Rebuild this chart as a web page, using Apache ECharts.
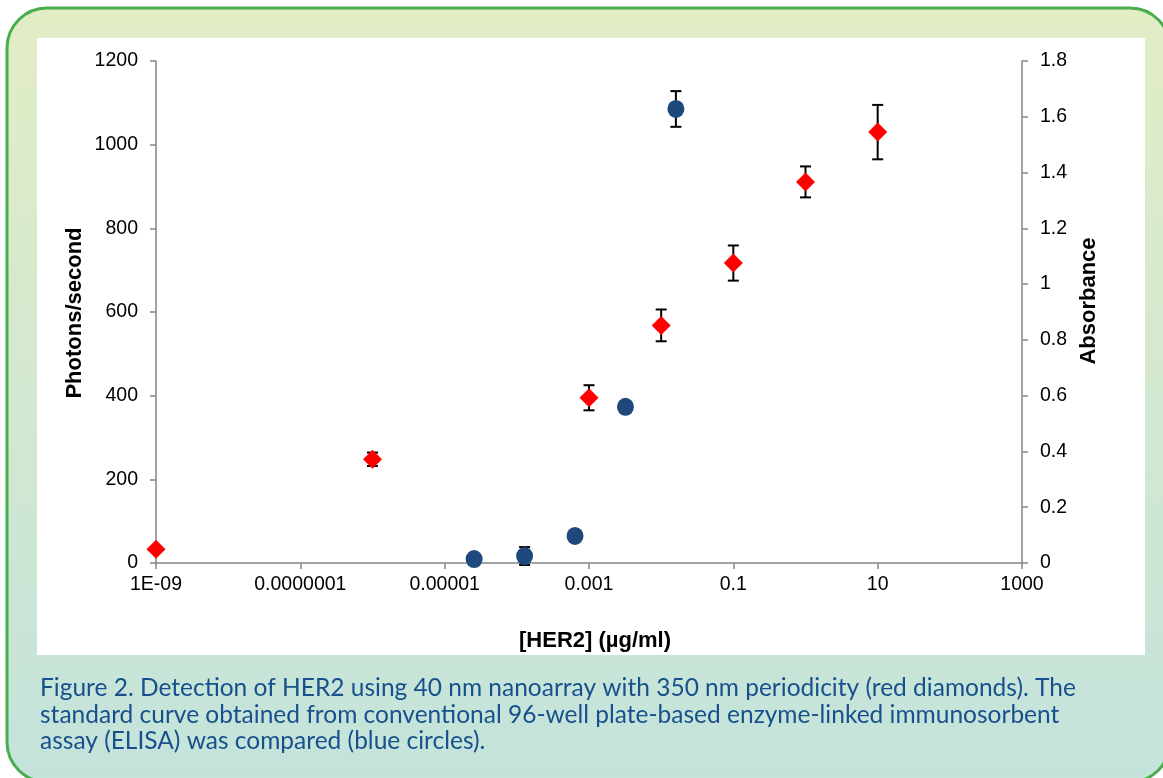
<!DOCTYPE html>
<html>
<head>
<meta charset="utf-8">
<style>
html,body{margin:0;padding:0;background:#fff;}
#chart{width:1163px;height:778px;}
</style>
<script src="https://cdn.jsdelivr.net/npm/echarts@6/dist/echarts.min.js"></script>
</head>
<body>
<div id="chart"></div>
<script>
// ---- data ----
const xTickLabels = ['1E-09', '0.0000001', '0.00001', '0.001', '0.1', '10', '1000'];
// nanoarray (red diamonds), photons/second
const nanoConc = [1e-9, 1e-6, 1e-3, 1e-2, 1e-1, 1, 10];
const nanoPhotons = [33, 248, 395, 568, 717, 911, 1030];
const nanoErr = [0, 16, 30, 38, 42, 37, 65];
// ELISA (blue circles), absorbance
const elisaConc = [2.56e-5, 1.28e-4, 6.4e-4, 3.2e-3, 1.6e-2];
const elisaAbs = [0.014, 0.025, 0.097, 0.56, 1.628];
const elisaErr = [0, 0.032, 0, 0, 0.064];
const captionLines = [
  'Figure 2. Detection of HER2 using 40 nm nanoarray with 350 nm periodicity (red diamonds). The',
  'standard curve obtained from conventional 96-well plate-based enzyme-linked immunosorbent',
  'assay (ELISA) was compared (blue circles).'
];

const lg = v => Math.log10(v);
const nanoPts = nanoConc.map((c, i) => [lg(c), nanoPhotons[i]]);
const nanoBars = nanoConc.map((c, i) => [lg(c), nanoPhotons[i] - nanoErr[i], nanoPhotons[i] + nanoErr[i]]).filter((d, i) => nanoErr[i] > 0);
const elisaPts = elisaConc.map((c, i) => [lg(c), elisaAbs[i]]);
const elisaBars = elisaConc.map((c, i) => [lg(c), elisaAbs[i] - elisaErr[i], elisaAbs[i] + elisaErr[i]]).filter((d, i) => elisaErr[i] > 0);

function errRender(params, api) {
  const x = api.value(0), lo = api.value(1), hi = api.value(2);
  const a = api.coord([x, lo]), b = api.coord([x, hi]);
  const w = 5.5;
  const st = {stroke: '#000', lineWidth: 2};
  return {type: 'group', children: [
    {type: 'line', shape: {x1: a[0], y1: a[1], x2: b[0], y2: b[1]}, style: st},
    {type: 'line', shape: {x1: a[0] - w, y1: a[1], x2: a[0] + w, y2: a[1]}, style: st},
    {type: 'line', shape: {x1: b[0] - w, y1: b[1], x2: b[0] + w, y2: b[1]}, style: st}
  ]};
}

const axisFont = 'Liberation Sans, Arial, sans-serif';
const axisLine = {show: true, onZero: false, lineStyle: {color: '#868686', width: 1.5}};
const axisTick = {show: true, inside: false, length: 6, lineStyle: {color: '#868686', width: 1.5}};
const lblSize = 19.5;

const chart = echarts.init(document.getElementById('chart'), null, {renderer: 'canvas'});
chart.setOption({
  backgroundColor: '#ffffff',
  animation: false,
  graphic: [
    {type: 'rect', z: -10, shape: {x: 7, y: 8, width: 1163, height: 774, r: 40},
     style: {fill: new echarts.graphic.LinearGradient(0, 0, 0, 1, [
       {offset: 0, color: '#e2edc5'}, {offset: 1, color: '#c3e3db'}]),
       stroke: '#48ad4c', lineWidth: 3}},
    {type: 'rect', z: -9, shape: {x: 37, y: 38, width: 1108, height: 617}, style: {fill: '#ffffff'}},
    {type: 'text', x: 595, y: 641, style: {text: '[HER2] (µg/ml)', font: 'bold 22px ' + axisFont, fill: '#000', align: 'center', verticalAlign: 'middle'}},
    {type: 'text', x: 75, y: 313, rotation: Math.PI / 2, style: {text: 'Photons/second', font: 'bold 22px ' + axisFont, fill: '#000', align: 'center', verticalAlign: 'middle'}},
    {type: 'text', x: 1089, y: 301, rotation: Math.PI / 2, style: {text: 'Absorbance', font: 'bold 22px ' + axisFont, fill: '#000', align: 'center', verticalAlign: 'middle'}},
    {type: 'text', x: 40, y: 688, style: {text: captionLines[0], font: '24.5px Lato, sans-serif', fill: '#17508c', align: 'left', verticalAlign: 'middle'}},
    {type: 'text', x: 40, y: 715, style: {text: captionLines[1], font: '24.5px Lato, sans-serif', fill: '#17508c', align: 'left', verticalAlign: 'middle'}},
    {type: 'text', x: 40, y: 741, style: {text: captionLines[2], font: '24.5px Lato, sans-serif', fill: '#17508c', align: 'left', verticalAlign: 'middle'}}
  ],
  grid: {left: 156, right: 141, top: 61, bottom: 215, containLabel: false},
  xAxis: {
    type: 'value', min: -9, max: 3, interval: 2,
    axisLine: axisLine, axisTick: axisTick, splitLine: {show: false},
    axisLabel: {margin: 12, color: '#000', fontSize: lblSize, fontFamily: axisFont,
      formatter: v => xTickLabels[Math.round((v + 9) / 2)] || ''}
  },
  yAxis: [
    {type: 'value', min: 0, max: 1200, interval: 200, position: 'left',
     axisLine: axisLine, axisTick: axisTick, splitLine: {show: false},
     axisLabel: {margin: 18, color: '#000', fontSize: lblSize, fontFamily: axisFont,
       formatter: v => String(v)}},
    {type: 'value', min: 0, max: 1.8, interval: 0.2, position: 'right',
     axisLine: axisLine, axisTick: axisTick, splitLine: {show: false},
     axisLabel: {margin: 18, color: '#000', fontSize: lblSize, fontFamily: axisFont,
       formatter: v => String(Math.round(v * 10) / 10)}}
  ],
  series: [
    {type: 'custom', name: 'nanoErr', yAxisIndex: 0, renderItem: errRender, data: nanoBars, z: 2, encode: {x: 0, y: [1, 2]}},
    {type: 'custom', name: 'elisaErr', yAxisIndex: 1, renderItem: errRender, data: elisaBars, z: 2, encode: {x: 0, y: [1, 2]}},
    {type: 'scatter', name: 'Nanoarray', yAxisIndex: 0, data: nanoPts, symbol: 'diamond', symbolSize: 19,
     itemStyle: {color: '#ff0000', opacity: 1}, z: 5},
    {type: 'scatter', name: 'ELISA', yAxisIndex: 1, data: elisaPts, symbol: 'circle', symbolSize: [17, 18],
     itemStyle: {color: '#1f497d', opacity: 1}, z: 5}
  ]
});
</script>
</body>
</html>
